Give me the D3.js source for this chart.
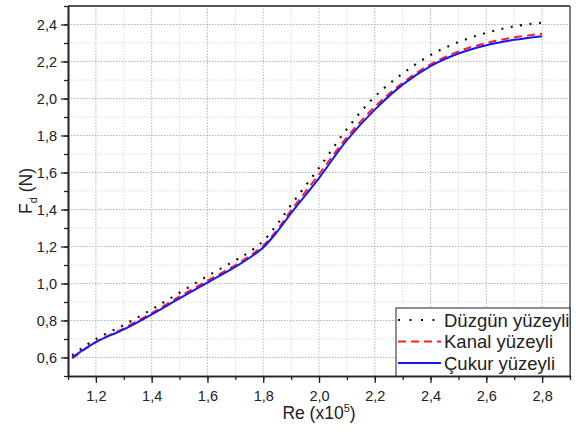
<!DOCTYPE html>
<html>
<head>
<meta charset="utf-8">
<script src="https://cdn.jsdelivr.net/npm/d3@7"></script>
<style>
  body { margin: 0; background: #fff; }
  text { font-family: "Liberation Sans", Arial, sans-serif; fill: #222; }
</style>
</head>
<body>
<div id="app"></div>
<script>
// Re values (x10^5) shared by all three series
const reVals     = [1.115, 1.2, 1.3, 1.4, 1.5, 1.6, 1.7, 1.75, 1.8, 1.85, 1.9, 2.0, 2.1, 2.2, 2.3, 2.4, 2.5, 2.6, 2.7, 2.8];
const duzgunVals = [0.612, 0.70, 0.775, 0.86, 0.95, 1.04, 1.125, 1.17, 1.23, 1.32, 1.425, 1.625, 1.835, 2.01, 2.135, 2.235, 2.305, 2.355, 2.39, 2.41];
const kanalVals  = [0.595, 0.685, 0.758, 0.84, 0.93, 1.015, 1.10, 1.148, 1.205, 1.29, 1.395, 1.59, 1.79, 1.955, 2.085, 2.185, 2.255, 2.30, 2.33, 2.35];
const cukurVals  = [0.60, 0.683, 0.752, 0.833, 0.92, 1.005, 1.09, 1.138, 1.195, 1.28, 1.38, 1.57, 1.775, 1.94, 2.075, 2.175, 2.243, 2.288, 2.317, 2.337];
const seriesNames = ["Düzgün yüzeyli", "Kanal yüzeyli", "Çukur yüzeyli"];
const xTicks = [1.2, 1.4, 1.6, 1.8, 2.0, 2.2, 2.4, 2.6, 2.8];
const yTicks = [0.6, 0.8, 1.0, 1.2, 1.4, 1.6, 1.8, 2.0, 2.2, 2.4];

const W = 576, H = 432;
const m = { t: 6, r: 6, b: 56, l: 68 };
const fmt = d => d3.format(".1f")(d).replace(".", ",");

const svg = d3.select("#app").append("svg")
    .attr("width", W)
    .attr("height", H);

const x = d3.scaleLinear().domain([1.1, 2.9]).range([m.l, W - m.r]);
const y = d3.scaleLinear().domain([0.5, 2.5]).range([H - m.b, m.t]);

const minorX = d3.range(1.1, 2.95, 0.1).map(v => +v.toFixed(2));
const minorY = d3.range(0.5, 2.55, 0.1).map(v => +v.toFixed(2));
const isMajor = (list, d) => list.some(t => Math.abs(t - d) < 1e-6);

// grid
const grid = svg.append("g").attr("class", "grid");
grid.selectAll("line.gx")
    .data(minorX.filter(v => v > 1.1 && v < 2.9)).enter()
    .append("line")
        .attr("x1", d => x(d)).attr("x2", d => x(d))
        .attr("y1", y(0.5)).attr("y2", y(2.5))
        .attr("stroke", d => isMajor(xTicks, d) ? "#b4b4b4" : "#dcdcdc")
        .attr("stroke-dasharray", "1.5,1.5");
grid.selectAll("line.gy")
    .data(minorY.filter(v => v > 0.5 && v < 2.5)).enter()
    .append("line")
        .attr("y1", d => y(d)).attr("y2", d => y(d))
        .attr("x1", x(1.1)).attr("x2", x(2.9))
        .attr("stroke", d => isMajor(yTicks, d) ? "#b4b4b4" : "#dcdcdc")
        .attr("stroke-dasharray", "1.5,1.5");

// curves
const series = [
    { name: seriesNames[0], vals: duzgunVals, color: "#111", dash: "2,7.5", legDash: "2,9.5", width: 2.2 },
    { name: seriesNames[1], vals: kanalVals,  color: "#ff2020", dash: "8,5", legDash: "8,5", width: 2 },
    { name: seriesNames[2], vals: cukurVals,  color: "#1515ff", dash: null, legDash: null, width: 2 }
];

const line = d3.line()
    .x(d => x(d[0]))
    .y(d => y(d[1]))
    .curve(d3.curveCatmullRom.alpha(0.5));

series.forEach(s => {
    svg.append("path")
        .datum(reVals.map((r, i) => [r, s.vals[i]]))
        .attr("d", line)
        .attr("fill", "none")
        .attr("stroke", s.color)
        .attr("stroke-width", s.width)
        .attr("stroke-dasharray", s.dash);
});

// frame top / right
svg.append("line")
    .attr("x1", x(1.1)).attr("x2", x(2.9)).attr("y1", y(2.5)).attr("y2", y(2.5))
    .attr("stroke", "#555").attr("stroke-width", 2);
svg.append("line")
    .attr("x1", x(2.9)).attr("x2", x(2.9)).attr("y1", y(2.5)).attr("y2", y(0.5))
    .attr("stroke", "#555").attr("stroke-width", 1.5);

// axes
const xAxis = svg.append("g")
    .attr("transform", "translate(0," + y(0.5) + ")")
    .call(d3.axisBottom(x).tickValues(xTicks).tickFormat(fmt).tickSize(7).tickSizeOuter(0));
const xMinor = svg.append("g")
    .attr("transform", "translate(0," + y(0.5) + ")")
    .call(d3.axisBottom(x).tickValues(minorX).tickFormat("").tickSize(4).tickSizeOuter(0));
const yAxis = svg.append("g")
    .attr("transform", "translate(" + x(1.1) + ",0)")
    .call(d3.axisLeft(y).tickValues(yTicks).tickFormat(fmt).tickSize(7).tickSizeOuter(0));
const yMinor = svg.append("g")
    .attr("transform", "translate(" + x(1.1) + ",0)")
    .call(d3.axisLeft(y).tickValues(minorY).tickFormat("").tickSize(4).tickSizeOuter(0));

[xAxis, xMinor, yAxis, yMinor].forEach(a => {
    a.select(".domain").attr("stroke", "#222").attr("stroke-width", 1.6);
    a.selectAll(".tick line").attr("stroke", "#222").attr("stroke-width", 1.3);
});
xAxis.selectAll(".tick text")
    .style("font-size", "14.5px")
    .attr("dy", 0).attr("y", 25);
yAxis.selectAll(".tick text")
    .style("font-size", "14.5px")
    .attr("x", -11).attr("dy", "0.35em");

// axis titles
svg.append("text")
    .attr("x", (x(1.1) + x(2.9)) / 2)
    .attr("y", 419)
    .attr("text-anchor", "middle")
    .style("font-size", "17.5px")
    .html('Re (x10<tspan dy="-7" style="font-size:11px">5</tspan><tspan dy="7">)</tspan>');

svg.append("text")
    .attr("transform", "translate(32," + ((y(0.5) + y(2.5)) / 2) + ") rotate(-90)")
    .attr("text-anchor", "middle")
    .style("font-size", "17.5px")
    .html('F<tspan dy="5" style="font-size:11px">d</tspan><tspan dy="-5"> (N)</tspan>');

// legend
const legend = svg.append("g").attr("id", "legend");
legend.append("rect")
    .attr("x", 396).attr("y", 308)
    .attr("width", x(2.9) - 396).attr("height", y(0.5) - 308)
    .attr("fill", "#fff")
    .attr("stroke", "#222").attr("stroke-width", 1);

series.forEach((s, i) => {
    const ly = 320 + i * 21.5;
    legend.append("line")
        .attr("x1", 398).attr("x2", 441)
        .attr("y1", ly).attr("y2", ly)
        .attr("stroke", s.color)
        .attr("stroke-width", s.width)
        .attr("stroke-dasharray", s.legDash);
    legend.append("text")
        .attr("x", 444).attr("y", ly + 6.5)
        .style("font-size", "18.5px")
        .text(s.name);
});
</script>
</body>
</html>
